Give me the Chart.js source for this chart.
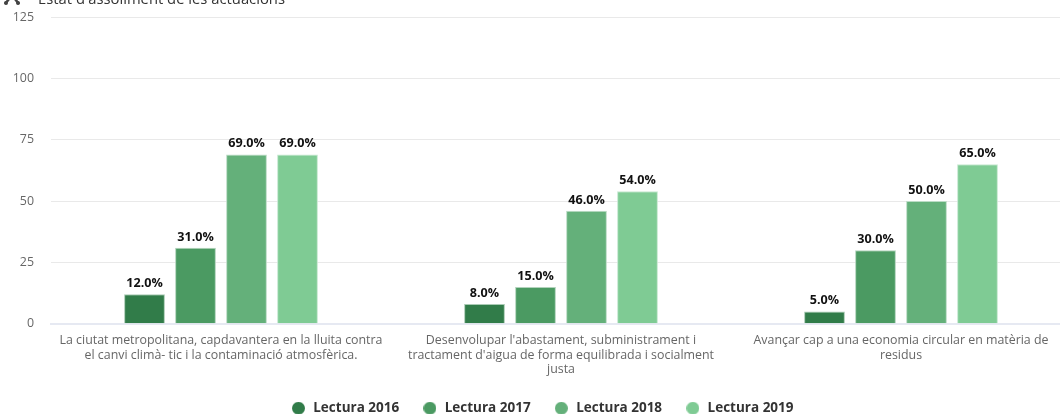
<!DOCTYPE html>
<html><head><meta charset="utf-8">
<script src="https://cdn.jsdelivr.net/npm/chart.js@4"></script>
<style>
html,body{margin:0;padding:0;background:#fff;overflow:hidden;width:1060px;height:414px}
#wrap{position:absolute;left:0;top:0;width:1086px;height:445px}
#title{position:absolute;left:38px;top:-12px;font:14.8px "Open Sans",sans-serif;color:#333;white-space:nowrap}
#icon{position:absolute;left:3px;top:-5px}
</style></head><body>
<div id="wrap"><canvas id="c" width="1086" height="445"></canvas></div>
<svg id="icon" width="20" height="12"><path d="M2 9 L6 4 M12 4 L16 9" stroke="#444" stroke-width="2.5" fill="none"/><circle cx="3" cy="8" r="2" fill="#444"/><circle cx="15" cy="8" r="2" fill="#444"/></svg>
<div id="title">Estat d'assoliment de les actuacions</div>
<script>
const categories=[
 ["La ciutat metropolitana, capdavantera en la lluita contra","el canvi climà- tic i la contaminació atmosfèrica."],
 ["Desenvolupar l'abastament, subministrament i","tractament d'aigua de forma equilibrada i socialment","justa"],
 ["Avançar cap a una economia circular en matèria de","residus"]];
const lectura2016=[12,8,5];
const lectura2017=[31,15,30];
const lectura2018=[69,46,50];
const lectura2019=[69,54,65];
const seriesNames=["Lectura 2016","Lectura 2017","Lectura 2018","Lectura 2019"];
const seriesColors=["#317c49","#4b9a62","#64b07a","#7fcb94"];
const seriesEdges=["#a9cbb4","#b2d3bc","#bcdcc6","#c6e8d0"];
const yTicks=[0,25,50,75,100,125];
const allSeries=[lectura2016,lectura2017,lectura2018,lectura2019];
function dot(color){const c=document.createElement('canvas');c.width=13;c.height=13;const g=c.getContext('2d');g.fillStyle=color;g.beginPath();g.arc(6.5,6.5,6.5,0,Math.PI*2);g.fill();return c;}
const valueLabels={id:'valueLabels',afterDatasetsDraw(ch){const x=ch.ctx;x.save();x.font='bold 12.6px "Open Sans"';x.fillStyle='#111';x.textAlign='center';x.textBaseline='alphabetic';
 ch.data.datasets.forEach((d,i)=>ch.getDatasetMeta(i).data.forEach((b,j)=>x.fillText(d.data[j].toFixed(1)+'%',b.x,b.y-7)));x.restore();}};
const legendShift={id:'legendShift',afterLayout(ch){const l=ch.legend;l.top-=15;l.bottom-=15;l.left+=6.5;l.right+=6.5;}};
new Chart(document.getElementById('c'),{type:'bar',
 data:{labels:categories,datasets:allSeries.map((s,i)=>({label:seriesNames[i],data:s,backgroundColor:seriesColors[i],borderColor:seriesEdges[i],borderWidth:1,categoryPercentage:0.6,barPercentage:0.8}))},
 options:{responsive:false,animation:false,
  layout:{padding:{top:17,right:15,left:0,bottom:5}},
  plugins:{tooltip:{enabled:false},title:{display:false},
   legend:{position:'bottom',labels:{usePointStyle:true,pointStyleWidth:16,boxHeight:9,padding:22.75,color:'#333',font:{family:'"Open Sans"',size:13.5,weight:'bold'},
     generateLabels(ch){return Chart.defaults.plugins.legend.labels.generateLabels(ch).map((it,i)=>({...it,pointStyle:dot(seriesColors[i])}));}}}},
  scales:{
   x:{grid:{display:false},border:{color:'#e6e9f2',width:2},ticks:{color:'#666',font:{family:'"Open Sans"',size:12.4},maxRotation:0,autoSkip:false,padding:1},afterFit(s){s.height=70;}},
   y:{min:0,max:125,afterBuildTicks(s){s.ticks=yTicks.map(v=>({value:v}));},grid:{color:'#e9e9e9',drawTicks:false},border:{display:false},ticks:{color:'#666',padding:17,font:{family:'"Open Sans"',size:12.4}},afterFit(s){s.width=51;s.paddingTop=0;s.paddingBottom=0;}}
  }},plugins:[valueLabels,legendShift]});
</script></body></html>
